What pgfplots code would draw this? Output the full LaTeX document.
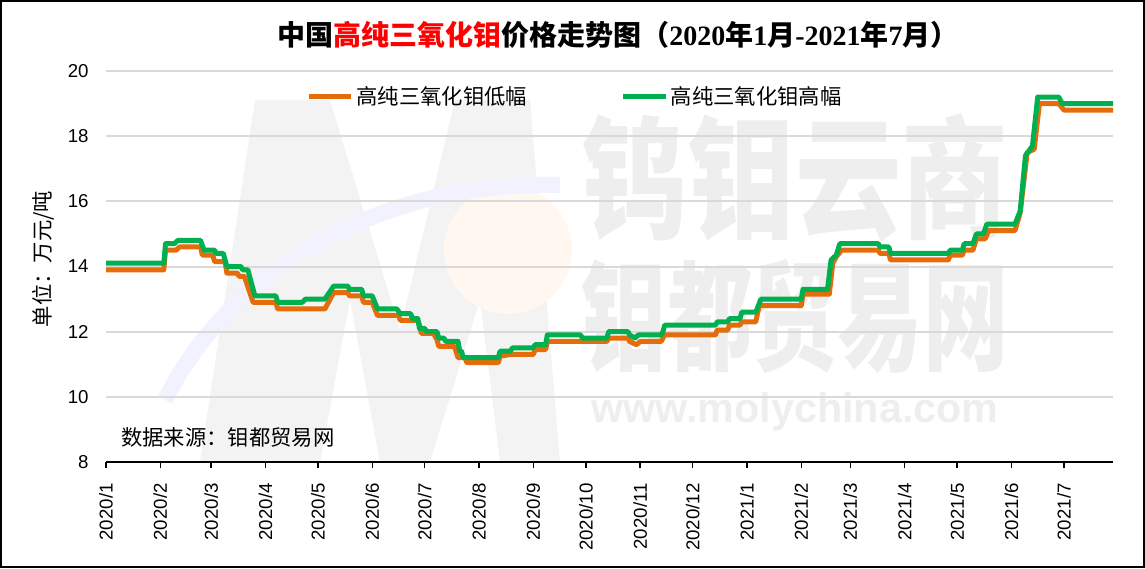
\documentclass[border=0pt]{standalone}
\usepackage{pgfplots}
\pgfplotsset{compat=1.18}
\usepackage{fontspec}
\setmainfont{Liberation Sans}
\newfontfamily\cjk{Noto Sans CJK SC}
\newfontfamily\serif{Liberation Serif}
\definecolor{lorange}{RGB}{228,108,10}
\definecolor{lgreen}{RGB}{0,176,80}
\definecolor{wm}{RGB}{238,238,238}
\definecolor{wmm}{RGB}{243,243,243}
\definecolor{gridc}{RGB}{217,217,217}

\pgfplotstableread{
d v
0 13.9
33 13.9
34 14.5
40 14.5
42 14.6
54 14.6
55 14.35
61 14.35
62 14.15
68 14.15
69 13.8
75 13.8
76 13.7
79 13.7
84 12.9
97 12.9
98 12.7
125 12.7
130 13.2
138 13.2
139 13.1
146 13.1
147 12.9
152 12.9
155 12.5
167 12.5
168 12.35
178 12.35
179 12.2
180 11.95
187 11.95
189 11.75
190 11.55
199 11.55
201 11.2
205 11.2
206 11.05
224 11.05
225 11.25
231 11.3
244 11.3
245 11.45
251 11.45
252 11.7
286 11.7
287 11.8
298 11.8
299 11.7
303 11.6
305 11.7
317 11.7
319 11.9
348 11.9
349 12.05
355 12.05
356 12.2
362 12.2
363 12.3
371 12.3
373 12.8
397 12.8
398 13.15
413 13.15
415 14.1
417 14.3
420 14.5
441 14.5
442 14.4
447 14.4
448 14.2
481 14.2
482 14.35
489 14.35
490 14.5
495 14.5
497 14.85
502 14.85
504 15.1
519 15.1
522 15.65
526 17.5
530 17.6
533 19.0
544 19.0
547 18.8
575 18.8
}\lowtab

\pgfplotstableread{
d v
0 14.1
33 14.1
34 14.7
39 14.7
41 14.8
54 14.8
56 14.5
62 14.5
63 14.4
67 14.4
69 14.0
77 14.0
78 13.9
81 13.9
85 13.1
97 13.1
98 12.9
112 12.9
114 13.0
125 13.0
130 13.4
138 13.4
139 13.3
146 13.3
147 13.1
152 13.1
155 12.7
166 12.7
168 12.55
174 12.55
175 12.4
178 12.4
179 12.1
182 12.1
183 12.0
189 12.0
190 11.8
193 11.8
194 11.7
201 11.7
202 11.4
203 11.4
204 11.2
224 11.2
225 11.4
231 11.4
232 11.5
244 11.5
245 11.6
251 11.6
252 11.9
271 11.9
272 11.8
286 11.8
287 12.0
298 12.0
299 11.9
302 11.8
304 11.9
317 11.9
318 12.0
319 12.2
348 12.2
349 12.3
355 12.3
356 12.4
362 12.4
363 12.6
371 12.6
374 13.0
397 13.0
398 13.3
412 13.3
414 14.2
417 14.35
419 14.7
441 14.7
442 14.6
447 14.6
448 14.4
481 14.4
482 14.5
489 14.5
490 14.7
495 14.7
497 15.0
501 15.0
503 15.3
519 15.3
522 15.7
525 17.4
529 17.7
532 19.2
544 19.2
546 19.0
575 19.0
}\hightab

\begin{document}
\begin{tikzpicture}
\useasboundingbox (0,0) rectangle (858.75pt,426pt);
\begin{scope}[shift={(0pt,426pt)},x=0.75pt,y=-0.75pt]
  % watermark logo (faint)
  \fill[wmm] (200,462) -- (255,100) -- (330,100) -- (400,330) -- (455,100) -- (530,100) -- (560,462) -- (500,462) -- (480,300) -- (430,462) -- (380,462) -- (350,300) -- (320,462) -- cycle;
  \fill[orange!6] (508,250) circle (48pt);
  \draw[blue!5, line width=12pt] (165,400) .. controls (230,270) and (380,180) .. (560,185);
  % watermark text
  \node[wm, font=\cjk\bfseries\fontsize{80}{80}\selectfont, yscale=1.25, inner sep=0pt] at (795,178) {钨钼云商};
  \node[wm, font=\cjk\bfseries\fontsize{64}{64}\selectfont, yscale=1.4, inner sep=0pt] at (795,317) {钼都贸易网};
  \node[wm, font=\bfseries\fontsize{31}{31}\selectfont, inner sep=0pt] at (795,412) {www.molychina.com};
  % title
  \node[font=\fontsize{21}{21}\selectfont, inner sep=0pt] at (618,35) {\cjk\bfseries 中国\textcolor{red}{高纯三氧化钼}价格走势图（\serif 2020\cjk 年\serif 1\cjk 月\serif -2021\cjk 年\serif 7\cjk 月）};
  % y label
  \node[rotate=90, font=\cjk\fontsize{16}{16}\selectfont, inner sep=0pt] at (43,259) {单位：万元/吨};
  % source
  \node[anchor=west, font=\cjk\fontsize{16}{16}\selectfont, inner sep=0pt] at (121,437) {数据来源：钼都贸易网};
  % frame
  \draw[line width=1.5pt] (1,1) rectangle (1144,567);
\end{scope}

\begin{axis}[
  at={(79.5pt,79.5pt)}, anchor=south west, scale only axis,
  width=755.25pt, height=293.25pt,
  xmin=0, xmax=575, ymin=8, ymax=20,
  axis lines*=left,
  y axis line style={draw=none},
  x axis line style={line width=1.5pt, -},
  ytick={8,10,...,20},
  ymajorgrids, major grid style={line width=1.5pt, color=gridc},
  ytick style={draw=none},
  xtick={0,31,60,91,121,152,182,213,244,274,305,335,366,397,425,456,486,517,547},
  xticklabels={2020/1,2020/2,2020/3,2020/4,2020/5,2020/6,2020/7,2020/8,2020/9,2020/10,2020/11,2020/12,2021/1,2021/2,2021/3,2021/4,2021/5,2021/6,2021/7},
  xtick style={black, line width=1pt},
  tick align=outside, major tick length=4.5pt,
  xticklabel shift=8pt,
  xticklabel style={rotate=90, anchor=east, font=\fontsize{14}{14}\selectfont},
  yticklabel style={font=\fontsize{14}{14}\selectfont, xshift=-5pt, /pgf/number format/assume math mode=true},
  legend style={draw=none, fill=none, at={(0.466,0.936)}, anchor=center, legend columns=2,
    font=\cjk\fontsize{16}{16}\selectfont,
    /tikz/every even column/.append style={column sep=68pt}},
  legend image code/.code={\draw[#1, line width=3.75pt] (0pt,0pt) -- (32pt,0pt);},
]
\addplot[lorange, line width=3.75pt, line join=round, no marks] table[x=d, y=v] {\lowtab};
\addlegendentry{高纯三氧化钼低幅}
\addplot[lgreen, line width=3.75pt, line join=round, no marks] table[x=d, y=v] {\hightab};
\addlegendentry{高纯三氧化钼高幅}
\end{axis}
\end{tikzpicture}
\end{document}
